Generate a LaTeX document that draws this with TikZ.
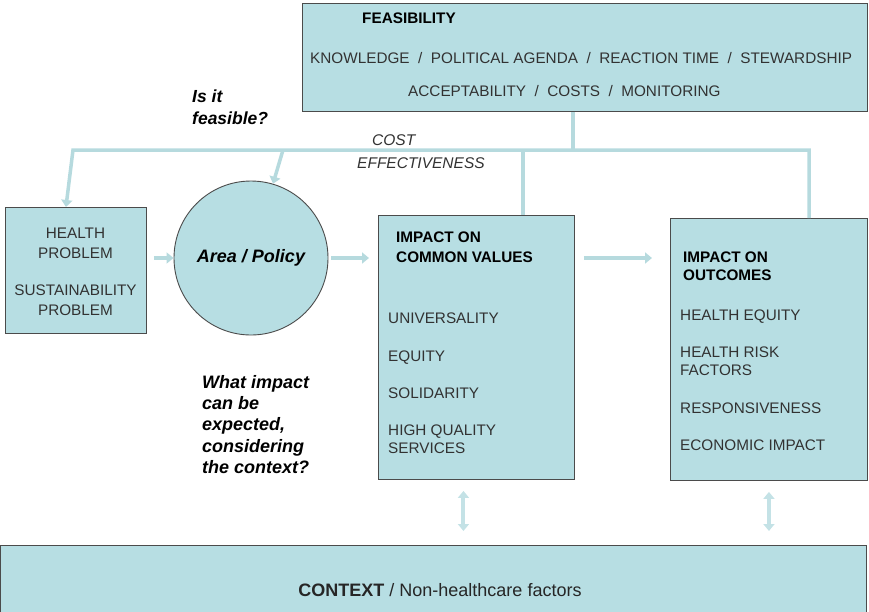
\documentclass[tikz,border=0pt]{standalone}
\usepackage{fontspec}
\setmainfont{Liberation Sans}
\usetikzlibrary{arrows.meta}
\definecolor{boxfill}{RGB}{183,222,227}
\definecolor{linkcol}{RGB}{182,218,222}
\definecolor{paircol}{RGB}{196,226,230}
\definecolor{edgecol}{RGB}{75,75,75}
\definecolor{txtcol}{RGB}{50,50,50}
\tikzset{
  panel/.style={draw=edgecol, fill=boxfill, line width=0.9pt, inner sep=0pt, anchor=north west},
  link/.style={draw=linkcol, line width=3.5pt},
  flow/.style={link, -{Triangle[width=11pt,length=7pt]}},
  both/.style={draw=paircol, line width=4pt, {Triangle[width=11pt,length=7pt]}-{Triangle[width=11pt,length=7pt]}},
  item/.style={inner sep=0pt, anchor=base west, text=txtcol, font=\fontsize{15.3}{18}\selectfont},
  head/.style={item, text=black, font=\fontsize{15.3}{18}\selectfont\bfseries},
  ask/.style={inner sep=0pt, anchor=base west, font=\fontsize{18}{21}\selectfont\bfseries\itshape},
}

\begin{document}
\begin{tikzpicture}[x=1pt,y=-1pt]
\useasboundingbox (0,0) rectangle (869,611);
% boxes
\node[panel, minimum width=565pt, minimum height=108pt] (fe) at (302,3) {};
\node[panel, minimum width=141pt, minimum height=126pt] (hp) at (5,207) {};
\node[circle, draw=edgecol, fill=boxfill, line width=0.9pt, minimum size=154pt, inner sep=0pt,
  font=\fontsize{18}{20}\selectfont\bfseries\itshape] (ap) at (251,258) {Area / Policy};
\node[panel, minimum width=196pt, minimum height=264pt] (cv) at (378,215) {};
\node[panel, minimum width=197pt, minimum height=262pt] (oc) at (670,218) {};
\node[panel, minimum width=866pt, minimum height=80pt] (ct) at (0,545) {};

% feasibility
\node[head] (fe-t) at (362,23.5) {FEASIBILITY};
\node[item] (fe-a) at (310,63.5) {KNOWLEDGE\ \ /\ \ POLITICAL AGENDA\ \ /\ \ REACTION TIME\ \ /\ \ STEWARDSHIP};
\node[item] (fe-b) at (408,96.5) {ACCEPTABILITY\ \ /\ \ COSTS\ \ /\ \ MONITORING};
\node[ask, font=\fontsize{17.5}{21}\selectfont\bfseries\itshape] (qf-a) at (192,102) {Is it};
\node[ask, font=\fontsize{17.5}{21}\selectfont\bfseries\itshape] (qf-b) at (192,124) {feasible?};
\node[item, font=\fontsize{15.5}{18}\selectfont\itshape] (ce-a) at (372,145.5) {COST};
\node[item, font=\fontsize{15.5}{18}\selectfont\itshape] (ce-b) at (357,168.5) {EFFECTIVENESS};

% problem
\node[item, anchor=base] (hp-a) at (75.5,238.5) {HEALTH};
\node[item, anchor=base] (hp-b) at (75.5,258.5) {PROBLEM};
\node[item, anchor=base] (hp-c) at (75.5,295.5) {SUSTAINABILITY};
\node[item, anchor=base] (hp-d) at (75.5,315.5) {PROBLEM};

% common values
\node[head] (cv-a) at (396,242.5) {IMPACT ON};
\node[head] (cv-b) at (396,262.5) {COMMON VALUES};
\node[item] (cv-c) at (388,323.5) {UNIVERSALITY};
\node[item] (cv-d) at (388,361.5) {EQUITY};
\node[item] (cv-e) at (388,398.5) {SOLIDARITY};
\node[item] (cv-f) at (388,435.5) {HIGH QUALITY};
\node[item] (cv-g) at (388,453.5) {SERVICES};

% outcomes
\node[head] (oc-a) at (683,262.5) {IMPACT ON};
\node[head] (oc-b) at (683,280.5) {OUTCOMES};
\node[item] (oc-c) at (680,320.5) {HEALTH EQUITY};
\node[item] (oc-d) at (680,357.5) {HEALTH RISK};
\node[item] (oc-e) at (680,375.5) {FACTORS};
\node[item] (oc-f) at (680,413.5) {RESPONSIVENESS};
\node[item] (oc-g) at (680,450.5) {ECONOMIC IMPACT};

% question
\node[ask] (qi-a) at (202,388) {What impact};
\node[ask] (qi-b) at (202,409.5) {can be};
\node[ask] (qi-c) at (202,430.5) {expected,};
\node[ask] (qi-d) at (202,452) {considering};
\node[ask] (qi-e) at (202,473) {the context?};

% context
\node[inner sep=0pt, anchor=base, text=black!85, font=\fontsize{18}{20}\selectfont] (ct-t) at (440,596)
  {\textbf{CONTEXT} / Non-healthcare factors};

% connectors
\coordinate (jl) at (73,150);
\coordinate (jr) at (809,150);
\coordinate (jf) at (573,150);
\coordinate (jc) at (523,150);
\coordinate (ja) at (283,150);
\coordinate (hin) at ([xshift=-10pt]hp.north);
\draw[flow] (oc.north -| jr) -- (jr) -- (jl) -- (hin);
\draw[link] (fe.south -| jf) -- (jf);
\draw[link] (cv.north -| jc) -- (jc);
\draw[flow] (ja) -- (ap);
\draw[flow, shorten <=7pt] (hp.east |- ap) -- (ap.west);
\draw[flow, shorten >=9pt] (ap.east) ++(3,0) -- (cv.west |- ap);
\draw[flow, shorten <=9pt, shorten >=18pt] (cv.east |- ap) -- (oc.west |- ap);
\coordinate (dc) at ([xshift=-13pt]cv.south);
\draw[both, shorten <=11pt, shorten >=14pt] (dc) -- (dc |- ct.north);
\draw[both, shorten <=11pt, shorten >=14pt] (oc.south) -- (oc.south |- ct.north);
\end{tikzpicture}
\end{document}
